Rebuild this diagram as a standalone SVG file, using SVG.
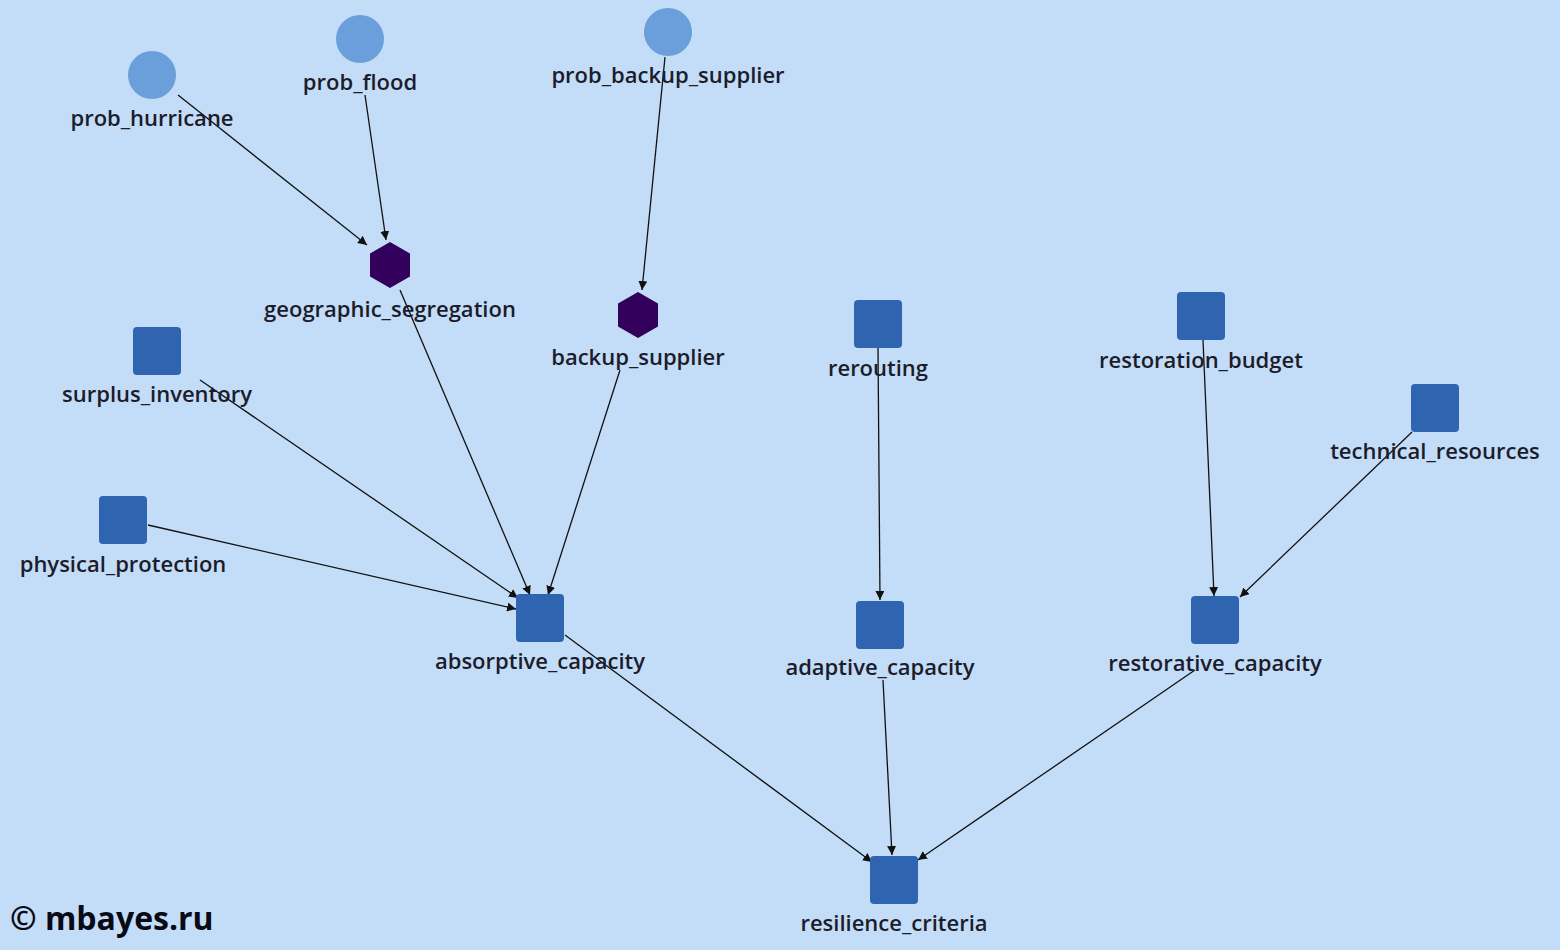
<svg xmlns="http://www.w3.org/2000/svg" width="1560" height="950" viewBox="0 0 1560 950">
<defs>
<marker id="ar" viewBox="0 0 10 10" refX="10" refY="5" markerWidth="9" markerHeight="9" orient="auto" markerUnits="userSpaceOnUse"><path d="M0,0L10,5L0,10z" fill="#111"/></marker>
<style>
.c{fill:#6b9fdc}.s{fill:#2f65b0}.h{fill:#33005c}
text{font-family:"Open Sans","DejaVu Sans",sans-serif;font-size:22px;font-weight:600;fill:#1c1c2a;text-anchor:middle}
.e line{stroke:#111;stroke-width:1.3;marker-end:url(#ar)}
</style>
</defs>
<rect width="1560" height="950" fill="#c3ddf8"/>
<g class="e">
<line x1="178" y1="95" x2="367" y2="245"/>
<line x1="365" y1="95" x2="386" y2="240"/>
<line x1="400" y1="290" x2="530" y2="595"/>
<line x1="665" y1="57" x2="642" y2="290"/>
<line x1="620" y1="370" x2="548" y2="595"/>
<line x1="200" y1="380" x2="518" y2="598"/>
<line x1="148" y1="525" x2="516" y2="609"/>
<line x1="565" y1="635" x2="872" y2="862"/>
<line x1="878" y1="348" x2="880" y2="600"/>
<line x1="883" y1="680" x2="892" y2="855"/>
<line x1="1203" y1="340" x2="1214" y2="596"/>
<line x1="1412" y1="432" x2="1240" y2="597"/>
<line x1="1195" y1="670" x2="918" y2="860"/>
</g>
<g id="prob_hurricane"><circle class="c" cx="152" cy="75" r="24"/><text x="152" y="126">prob_hurricane</text></g>
<g id="prob_flood"><circle class="c" cx="360" cy="39" r="24"/><text x="360" y="90">prob_flood</text></g>
<g id="prob_backup_supplier"><circle class="c" cx="668" cy="32" r="24"/><text x="668" y="83">prob_backup_supplier</text></g>
<g id="geographic_segregation"><polygon class="h" points="390,242 410,253.5 410,276.5 390,288 370,276.5 370,253.5"/><text x="390" y="317">geographic_segregation</text></g>
<g id="backup_supplier"><polygon class="h" points="638,292 658,303.5 658,326.5 638,338 618,326.5 618,303.5"/><text x="638" y="365">backup_supplier</text></g>
<g id="surplus_inventory"><rect class="s" x="133" y="327" width="48" height="48" rx="4"/><text x="157" y="402">surplus_inventory</text></g>
<g id="physical_protection"><rect class="s" x="99" y="496" width="48" height="48" rx="4"/><text x="123" y="572">physical_protection</text></g>
<g id="absorptive_capacity"><rect class="s" x="516" y="594" width="48" height="48" rx="4"/><text x="540" y="669">absorptive_capacity</text></g>
<g id="rerouting"><rect class="s" x="854" y="300" width="48" height="48" rx="4"/><text x="878" y="376">rerouting</text></g>
<g id="adaptive_capacity"><rect class="s" x="856" y="601" width="48" height="48" rx="4"/><text x="880" y="675">adaptive_capacity</text></g>
<g id="restoration_budget"><rect class="s" x="1177" y="292" width="48" height="48" rx="4"/><text x="1201" y="368">restoration_budget</text></g>
<g id="technical_resources"><rect class="s" x="1411" y="384" width="48" height="48" rx="4"/><text x="1435" y="459">technical_resources</text></g>
<g id="restorative_capacity"><rect class="s" x="1191" y="596" width="48" height="48" rx="4"/><text x="1215" y="671">restorative_capacity</text></g>
<g id="resilience_criteria"><rect class="s" x="870" y="856" width="48" height="48" rx="4"/><text x="894" y="931">resilience_criteria</text></g>
<text x="10" y="930" style="font-size:32px;font-weight:700;text-anchor:start;fill:#0a0a14">© mbayes.ru</text>
</svg>
